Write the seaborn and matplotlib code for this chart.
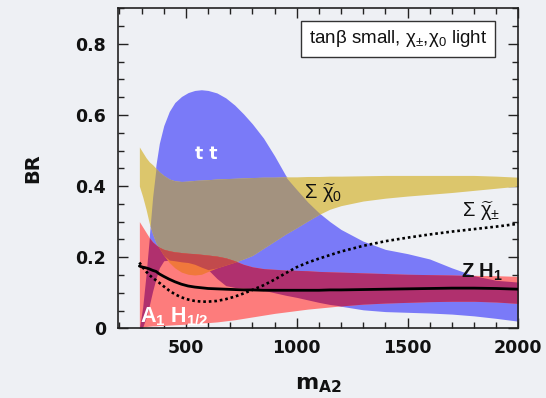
import numpy as np
import pandas as pd
import matplotlib
matplotlib.use("Agg")
import matplotlib.pyplot as plt
from matplotlib.ticker import MultipleLocator, FixedLocator
import seaborn as sns

# ---- data: branching ratios vs m_A2 ----
m_A2 = [290, 305, 320, 335, 350, 365, 380, 400, 425, 450, 480, 510, 540, 570,
        600, 640, 680, 720, 760, 800, 850, 900, 950, 1000, 1050, 1100, 1150,
        1200, 1300, 1400, 1500, 1600, 1700, 1800, 1900, 2000]

tt_hi = [0.0, 0.06, 0.15, 0.26, 0.37, 0.46, 0.52, 0.57, 0.61, 0.635, 0.652, 0.663,
         0.669, 0.671, 0.669, 0.662, 0.648, 0.628, 0.603, 0.575, 0.535, 0.485, 0.43,
         0.39, 0.355, 0.325, 0.30, 0.278, 0.245, 0.222, 0.21, 0.195, 0.17, 0.148,
         0.135, 0.13]
tt_lo = [0.0, 0.0, 0.03, 0.065, 0.105, 0.14, 0.17, 0.19, 0.192, 0.19, 0.187, 0.185,
         0.18, 0.172, 0.165, 0.14, 0.12, 0.115, 0.113, 0.112, 0.107, 0.10, 0.093,
         0.087, 0.08, 0.073, 0.067, 0.062, 0.052, 0.047, 0.045, 0.043, 0.04, 0.035,
         0.028, 0.02]

chi0_hi = [0.51, 0.495, 0.48, 0.468, 0.46, 0.45, 0.44, 0.43, 0.42, 0.415, 0.413,
           0.414, 0.416, 0.417, 0.418, 0.42, 0.421, 0.422, 0.423, 0.424, 0.425,
           0.425, 0.426, 0.426, 0.427, 0.427, 0.428, 0.428, 0.429, 0.43, 0.43, 0.43,
           0.43, 0.43, 0.428, 0.425]
chi0_lo = [0.40, 0.37, 0.335, 0.295, 0.265, 0.24, 0.225, 0.205, 0.185, 0.17, 0.158,
           0.152, 0.15, 0.152, 0.16, 0.17, 0.178, 0.186, 0.195, 0.205, 0.225, 0.245,
           0.265, 0.283, 0.302, 0.32, 0.335, 0.345, 0.358, 0.366, 0.372, 0.377,
           0.382, 0.388, 0.394, 0.40]

a1h_hi = [0.30, 0.285, 0.27, 0.255, 0.243, 0.235, 0.228, 0.222, 0.218, 0.215, 0.213,
          0.211, 0.21, 0.208, 0.206, 0.203, 0.198, 0.19, 0.18, 0.173, 0.168, 0.166,
          0.164, 0.163, 0.162, 0.16, 0.159, 0.158, 0.156, 0.154, 0.152, 0.151, 0.15,
          0.149, 0.148, 0.146]
a1h_lo = [0.0, 0.003, 0.005, 0.006, 0.007, 0.007, 0.008, 0.008, 0.009, 0.01, 0.011,
          0.012, 0.013, 0.015, 0.016, 0.018, 0.021, 0.024, 0.028, 0.032, 0.037, 0.042,
          0.046, 0.05, 0.054, 0.057, 0.06, 0.063, 0.068, 0.071, 0.073, 0.075, 0.076,
          0.076, 0.074, 0.07]

zh1 = [0.175, 0.172, 0.17, 0.167, 0.163, 0.16, 0.153, 0.146, 0.138, 0.131, 0.124,
       0.119, 0.116, 0.114, 0.112, 0.111, 0.11, 0.109, 0.108, 0.108, 0.107, 0.107,
       0.107, 0.107, 0.107, 0.107, 0.108, 0.108, 0.109, 0.11, 0.111, 0.112, 0.113,
       0.113, 0.112, 0.11]
chipm = [0.185, 0.172, 0.16, 0.15, 0.142, 0.135, 0.128, 0.118, 0.106, 0.096, 0.087,
         0.081, 0.077, 0.075, 0.075, 0.077, 0.082, 0.089, 0.098, 0.108, 0.121, 0.137,
         0.155, 0.172, 0.185, 0.196, 0.206, 0.216, 0.232, 0.245, 0.255, 0.264, 0.272,
         0.279, 0.286, 0.294]

x_ticks = [500, 1000, 1500, 2000]
y_ticks = [0, 0.2, 0.4, 0.6, 0.8]
y_ticklabels = ["0", "0.2", "0.4", "0.6", "0.8"]

# ---- style ----
BG = "#eef0f4"
sns.set_theme(style="ticks")
plt.rcParams.update({
    "font.family": ["DejaVu Sans"],
    "mathtext.fontset": "custom",
    "mathtext.rm": "Liberation Sans",
    "mathtext.it": "Liberation Sans:italic",
    "mathtext.bf": "Liberation Sans:bold",
    "figure.facecolor": BG,
    "axes.facecolor": BG,
})

COL = {
    "B": "#7a7af8", "Y": "#dcc66c", "R": "#fd7c7c",
    "BY": "#a3927f", "BR": "#b0306e", "YR": "#f0783c", "BYR": "#c24a4c",
}

fig = plt.figure(figsize=(5.46, 3.98), dpi=100)
ax = fig.add_axes([0.2167, 0.1751, 0.7326, 0.8040])

x = np.asarray(m_A2, dtype=float)
bands = {
    "B": (np.asarray(tt_lo), np.asarray(tt_hi)),
    "Y": (np.asarray(chi0_lo), np.asarray(chi0_hi)),
    "R": (np.asarray(a1h_lo), np.asarray(a1h_hi)),
}


def fill_overlap(keys, color):
    lo = np.max([bands[k][0] for k in keys], axis=0)
    hi = np.min([bands[k][1] for k in keys], axis=0)
    ax.fill_between(x, lo, hi, where=hi > lo, interpolate=True,
                    color=color, linewidth=0, zorder=2)


for k in ["B", "Y", "R"]:
    fill_overlap([k], COL[k])
for keys in [("B", "Y"), ("B", "R"), ("Y", "R"), ("B", "Y", "R")]:
    fill_overlap(list(keys), COL["".join(keys)])

df = pd.DataFrame({"m_A2": m_A2, "ZH1": zh1, "chipm": chipm})
sns.lineplot(data=df, x="m_A2", y="ZH1", ax=ax, color="black", linewidth=2.0,
             zorder=4)
sns.lineplot(data=df, x="m_A2", y="chipm", ax=ax, color="black", linewidth=1.9,
             linestyle=(0, (1, 1.1)), zorder=4)

# ---- axes ----
ax.set_xlim(195, 2000)
ax.set_ylim(0, 0.9)
ax.set_xlabel("")
ax.set_ylabel("")
ax.xaxis.set_major_locator(FixedLocator(x_ticks))
ax.xaxis.set_minor_locator(MultipleLocator(100))
ax.yaxis.set_major_locator(FixedLocator(y_ticks))
ax.yaxis.set_minor_locator(MultipleLocator(0.05))
ax.set_xticklabels([str(v) for v in x_ticks])
ax.set_yticklabels(y_ticklabels)
ax.tick_params(which="both", direction="in", top=True, right=True,
               color="#222222", width=1.0)
ax.tick_params(which="major", length=7)
ax.tick_params(which="minor", length=4)
ax.tick_params(axis="y", which="major", pad=9)
ax.tick_params(axis="x", which="major", pad=8)
for lab in ax.get_xticklabels() + ax.get_yticklabels():
    lab.set_fontsize(12.5)
    lab.set_fontweight("bold")
    lab.set_color("#111111")
for sp in ax.spines.values():
    sp.set_visible(True)
    sp.set_linewidth(1.2)
    sp.set_color("#222222")

fig.text(33 / 546, 1 - 168 / 398, "BR", rotation=90, ha="center", va="center",
         fontsize=14, fontweight="bold", color="#111111")
fig.text(318 / 546, 1 - 385 / 398, r"$\mathbf{m_{A2}}$", ha="center",
         va="center", fontsize=16, color="#111111", math_fontfamily="dejavusans")

# ---- annotations ----
ax.text(594, 0.49, "t t", color="white", fontsize=12.5, fontweight="bold",
        ha="center", va="center", zorder=5)
ax.text(1120, 0.38, r"$\Sigma\ \widetilde{\mathrm{\chi}}_0$", color="#111111",
        fontsize=14.5, ha="center", va="center", zorder=5)
ax.text(1830, 0.328, r"$\Sigma\ \widetilde{\mathrm{\chi}}_{\pm}$", color="#111111",
        fontsize=14.5, ha="center", va="center", zorder=5)
ax.text(1838, 0.158, r"$\mathbf{Z\ H_1}$", color="#111111", fontsize=14.5,
        ha="center", va="center", zorder=5)
ax.text(295, 0.018, r"$\mathbf{A_1\ H_{1/2}}$", color="white", fontsize=15.5,
        ha="left", va="baseline", zorder=5)

ax.text(1458, 0.815,
        r"tan$\mathrm{\beta}$ small, $\mathrm{\chi_{\pm}}$,$\mathrm{\chi_0}$ light",
        fontsize=13.5, color="#111111", ha="center", va="center",
        fontfamily="Liberation Sans", zorder=6,
        bbox=dict(boxstyle="square,pad=0.4", facecolor="white",
                  edgecolor="#333333", linewidth=1.0))

fig.savefig("out.png", dpi=100, facecolor=BG)
